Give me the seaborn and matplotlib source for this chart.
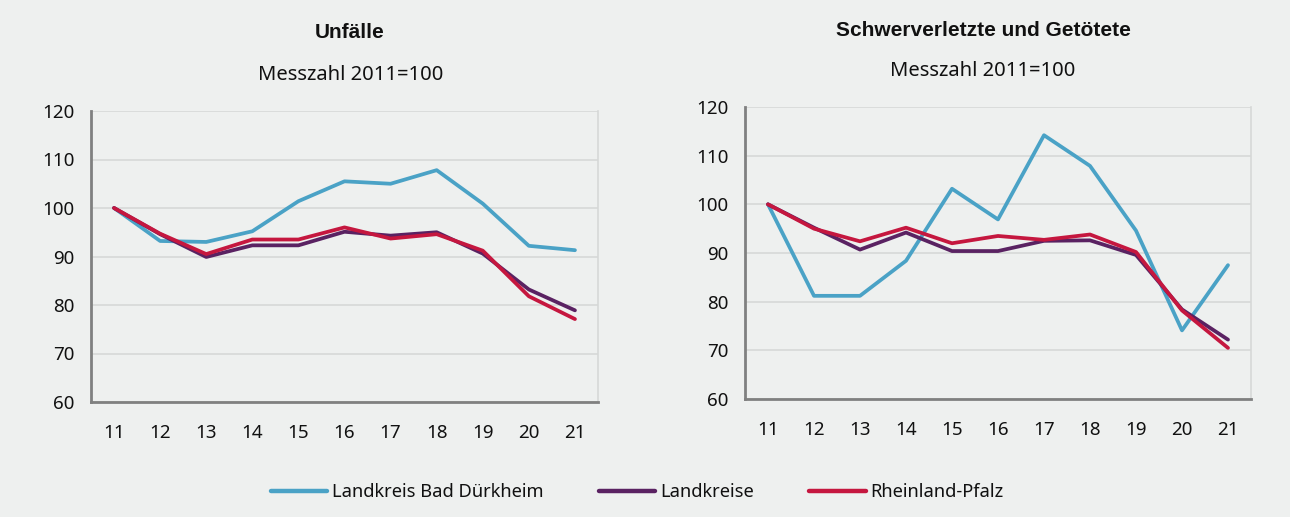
import matplotlib
matplotlib.use("Agg")
import matplotlib.pyplot as plt
import seaborn as sns
import pandas as pd

# data (Messzahl 2011=100)
years = ["11", "12", "13", "14", "15", "16", "17", "18", "19", "20", "21"]
series_names = ["Landkreis Bad Dürkheim", "Landkreise", "Rheinland-Pfalz"]

unfaelle_bd = [100, 93.2, 93.0, 95.2, 101.4, 105.5, 105.0, 107.8, 100.9, 92.2, 91.3]
unfaelle_lk = [100, 94.6, 89.9, 92.3, 92.3, 95.1, 94.3, 95.0, 90.6, 83.2, 78.9]
unfaelle_rp = [100, 94.7, 90.5, 93.5, 93.5, 96.0, 93.7, 94.6, 91.2, 81.8, 77.1]

schwer_bd = [100, 81.2, 81.2, 88.4, 103.2, 96.9, 114.2, 107.9, 94.6, 74.1, 87.5]
schwer_lk = [100, 95.2, 90.7, 94.2, 90.4, 90.4, 92.5, 92.6, 89.6, 78.4, 72.2]
schwer_rp = [100, 95.0, 92.4, 95.2, 92.0, 93.5, 92.7, 93.8, 90.2, 78.2, 70.5]

colors = ["#4aa2c6", "#5a2262", "#c5173f"]
bg = "#eef0ef"


def to_long(bd, lk, rp):
    rows = []
    for name, vals in zip(series_names, [bd, lk, rp]):
        for i, v in enumerate(vals):
            rows.append({"pos": i, "value": v, "series": name})
    return pd.DataFrame(rows)


sns.set_style("white")
plt.rcParams["font.family"] = ["Noto Sans", "DejaVu Sans"]

fig = plt.figure(figsize=(12.9, 5.17), dpi=100, facecolor=bg)
W, H = 1290, 517
ax1 = fig.add_axes([91 / W, 1 - 402 / H, (598 - 91) / W, (402 - 111) / H])
ax2 = fig.add_axes([745 / W, 1 - 399 / H, (1251 - 745) / W, (399 - 107) / H])

for ax, df in [(ax1, to_long(unfaelle_bd, unfaelle_lk, unfaelle_rp)),
               (ax2, to_long(schwer_bd, schwer_lk, schwer_rp))]:
    ax.set_facecolor(bg)
    sns.lineplot(data=df, x="pos", y="value", hue="series", palette=colors,
                 hue_order=series_names, linewidth=2.7, ax=ax, legend=False,
                 zorder=3)
    ax.set_xlim(-0.5, 10.5)
    ax.set_ylim(60, 120)
    ax.set_yticks(range(60, 121, 10))
    ax.tick_params(axis="y", labelsize=13.5, length=6, width=1.5,
                   color="#808080", pad=6, labelcolor="#111111")
    ax.set_xticks(range(len(years)))
    ax.set_xticklabels(years)
    ax.tick_params(axis="x", which="major", length=0, labelsize=13.5,
                   pad=16, labelcolor="#111111")
    ax.set_xticks([i - 0.5 for i in range(len(years) + 1)], minor=True)
    ax.tick_params(axis="x", which="minor", length=6, width=1.5,
                   color="#808080", direction="out")
    ax.yaxis.grid(True, color="#d6d8d7", linewidth=1.2, zorder=0)
    ax.set_axisbelow(True)
    for side in ["left", "bottom"]:
        ax.spines[side].set_color("#808080")
        ax.spines[side].set_linewidth(2)
    ax.spines["top"].set_visible(False)
    ax.spines["right"].set_color("#d6d8d7")
    ax.spines["right"].set_linewidth(1.2)
    ax.set_xlabel("")
    ax.set_ylabel("")

fig.text(350 / W, 1 - 33 / H, "Unfälle", ha="center", va="center",
         fontsize=15, fontweight="bold", family="Liberation Sans",
         color="#111111")
fig.text(351 / W, 1 - 75 / H, "Messzahl 2011=100", ha="center",
         va="center", fontsize=14.5, color="#111111")
fig.text(983 / W, 1 - 30 / H, "Schwerverletzte und Getötete", ha="center",
         va="center", fontsize=15, fontweight="bold",
         family="Liberation Sans", color="#111111")
fig.text(983 / W, 1 - 71 / H, "Messzahl 2011=100", ha="center",
         va="center", fontsize=14.5, color="#111111")

handles = [plt.Line2D([], [], color=c, linewidth=3.2) for c in colors]
fig.legend(handles, series_names, loc="center", ncol=3, frameon=False,
           bbox_to_anchor=(637 / W, 1 - 492 / H), fontsize=13.2,
           labelcolor="#111111", handlelength=3.1, handletextpad=0.25,
           columnspacing=3.0)

fig.savefig("out.png", dpi=100, facecolor=bg)
